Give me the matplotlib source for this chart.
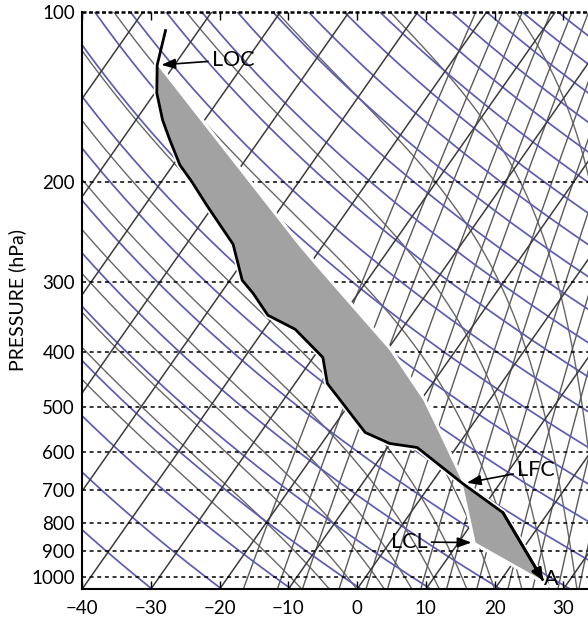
import numpy as np
import matplotlib
matplotlib.use("Agg")
import matplotlib.pyplot as plt
from matplotlib.transforms import Affine2D
from matplotlib.ticker import NullLocator

plt.rcParams['font.family'] = ['Lato', 'DejaVu Sans']

# ---------------------------------------------------------------- data
# environmental sounding, surface (A) to top
env_p = np.array([1013.5, 768.3, 682.7, 589.5, 580.0, 554.5, 454.2, 408.6,
                  364.3, 344.1, 314.6, 298.4, 257.7, 219.9, 200.1, 186.7,
                  168.7, 155.5, 139.3, 124.3, 107.4])
env_t = np.array([26.2, 13.4, 4.6, -5.7, -10.1, -14.8, -25.3, -28.6,
                  -35.5, -40.9, -45.3, -48.2, -53.2, -61.0, -65.5, -69.0,
                  -73.0, -76.1, -79.7, -82.5, -84.9])

# lifted parcel: A -> LCL -> LFC -> ... -> LOC
parcel_p = np.array([1013.5, 868.2, 682.7, 666.2, 573.0, 486.7, 396.9,
                     341.3, 282.7, 258.8, 124.3])
parcel_t = np.array([26.2, 12.5, 4.6, 3.6, -2.7, -9.6, -19.6,
                     -28.1, -38.7, -43.6, -82.5])
i_lcl, i_lfc = 1, 2

isobars = [100, 200, 300, 400, 500, 600, 700, 800, 900, 1000]
temp_ticks = [-40, -30, -20, -10, 0, 10, 20, 30]

# background families of the thermodynamic diagram
isotherm_vals = np.arange(-110, 41, 10)          # deg C
theta_vals = np.arange(230, 481, 10)              # K
moist_start = np.arange(-8, 41, 4)                # deg C at 1050 hPa
mixing_ratios = [1, 1.5, 2, 3, 4, 5, 7, 9, 12, 16, 20, 25, 30, 36]  # g/kg

p_top, p_bot = 100, 1050
t_left, t_right = -40, 33.6
skew_k = 0.8

# ---------------------------------------------------------------- figure
fig = plt.figure(figsize=(5.88, 6.22), dpi=100)
ax = fig.add_axes([82 / 588, 1 - 589.3 / 622, 506 / 588, 577.6 / 622])
ax.set_yscale('log')
ax.set_xlim(t_left, t_right)
ax.set_ylim(p_bot, p_top)

# skewed data transform (shear applied in axes space)
skew = (ax.transScale + ax.transLimits
        + Affine2D().skew(np.arctan(skew_k), 0) + ax.transAxes)

p_lev = np.logspace(np.log10(p_bot), np.log10(p_top), 300)

# isotherms
for t in isotherm_vals:
    ax.plot([t, t], [p_bot, p_top], color='#3c3c3c', lw=1.1,
            transform=skew, zorder=1.3)

# dry adiabats
for th in theta_vals:
    ax.plot(th * (p_lev / 1000.0) ** 0.2857 - 273.15, p_lev, color='#5c5cb4',
            lw=1.25, transform=skew, zorder=1.2)


# moist (pseudo-) adiabats
def sat_mix(tk, p):
    es = 6.112 * np.exp(17.67 * (tk - 273.15) / (tk - 29.65))
    return 0.622 * es / (p - es)


def moist_lapse(tk, p):
    rd, cp, lv, eps = 287.04, 1005.7, 2.501e6, 0.622
    rs = sat_mix(tk, p)
    return (rd * tk + lv * rs) / (cp + lv ** 2 * rs * eps / (rd * tk ** 2))


for t0 in moist_start:
    tk = t0 + 273.15
    temps = [tk]
    for p1, p2 in zip(p_lev[:-1], p_lev[1:]):
        dl = np.log(p2 / p1)
        k1 = moist_lapse(tk, p1)
        k2 = moist_lapse(tk + k1 * dl, p2)
        tk = tk + 0.5 * (k1 + k2) * dl
        temps.append(tk)
    ax.plot(np.array(temps) - 273.15, p_lev, color='#676767', lw=1.0,
            transform=skew, zorder=1.1)

# saturation mixing-ratio lines
for w in mixing_ratios:
    wk = w / 1000.0
    e = p_lev * wk / (0.622 + wk)
    le = np.log(e / 6.112)
    td = 243.5 * le / (17.67 - le)
    ax.plot(td, p_lev, color='#5a5a5a', lw=1.0, transform=skew, zorder=1.1)

# isobars
for p in isobars[1:]:
    ax.axhline(p, color='k', lw=1.1, ls=(0, (2.6, 2.4)), zorder=2)
ax.axhline(p_top, color='k', lw=1.8, ls=(0, (1.6, 1.0)), zorder=6, clip_on=False)

# shaded area between parcel and environment
mask = env_p >= parcel_p.min()
poly_t = np.concatenate([env_t[mask], parcel_t[::-1]])
poly_p = np.concatenate([env_p[mask], parcel_p[::-1]])
ax.fill(poly_t, poly_p, facecolor='none', edgecolor='white', lw=4.5,
        transform=skew, zorder=3)
ax.fill(poly_t, poly_p, facecolor='#a2a2a2', edgecolor='none',
        transform=skew, zorder=3.1)

# environmental temperature curve
ax.plot(env_t, env_p, color='k', lw=2.0, transform=skew, zorder=4,
        solid_capstyle='butt')
ax.annotate('', xy=(env_t[0], env_p[0]), xycoords=skew,
            xytext=(env_t[1], env_p[1]), textcoords=skew,
            arrowprops=dict(arrowstyle='-|>,head_length=0.5,head_width=0.22',
                            color='k', lw=2.0, shrinkA=0, shrinkB=0,
                            mutation_scale=14), zorder=4)

# level labels
arrow = dict(arrowstyle='-|>,head_length=0.6,head_width=0.22', color='k',
             lw=1.2, shrinkA=1, shrinkB=3, mutation_scale=14)
ax.annotate('LOC', xy=(parcel_t[-1], parcel_p[-1]), xycoords=skew,
            xytext=(55, 4), textcoords='offset points', ha='center',
            va='center', fontsize=15.5, arrowprops=arrow, zorder=5)
ax.annotate('LFC', xy=(parcel_t[i_lfc], parcel_p[i_lfc]), xycoords=skew,
            xytext=(53, 10), textcoords='offset points', ha='center',
            va='center', fontsize=15.5, arrowprops=arrow, zorder=5)
ax.annotate('LCL', xy=(parcel_t[i_lcl], parcel_p[i_lcl]), xycoords=skew,
            xytext=(-48, 0.5), textcoords='offset points', ha='center',
            va='center', fontsize=15.5, arrowprops=arrow, zorder=5)
ax.annotate('A', xy=(env_t[0], env_p[0]), xycoords=skew,
            xytext=(6, 1.5), textcoords='offset points', ha='center',
            va='center', fontsize=15.5, zorder=5)

# axes styling
ax.set_xticks(temp_ticks)
ax.set_yticks(isobars)
ax.set_yticklabels([str(p) for p in isobars])
ax.yaxis.set_minor_locator(NullLocator())
ax.tick_params(axis='x', direction='in', top=True, length=6, width=1.0,
               labelsize=13.5, pad=8)
ax.tick_params(axis='y', length=0, labelsize=13.5, pad=5)
ax.set_ylabel('PRESSURE (hPa)', fontsize=14)
ax.yaxis.set_label_coords(-0.11, 0.5)
for side in ('top', 'right'):
    ax.spines[side].set_visible(False)
for side in ('left', 'bottom'):
    ax.spines[side].set_linewidth(1.5)
    ax.spines[side].set_zorder(6)

fig.savefig('out.png', dpi=100)
